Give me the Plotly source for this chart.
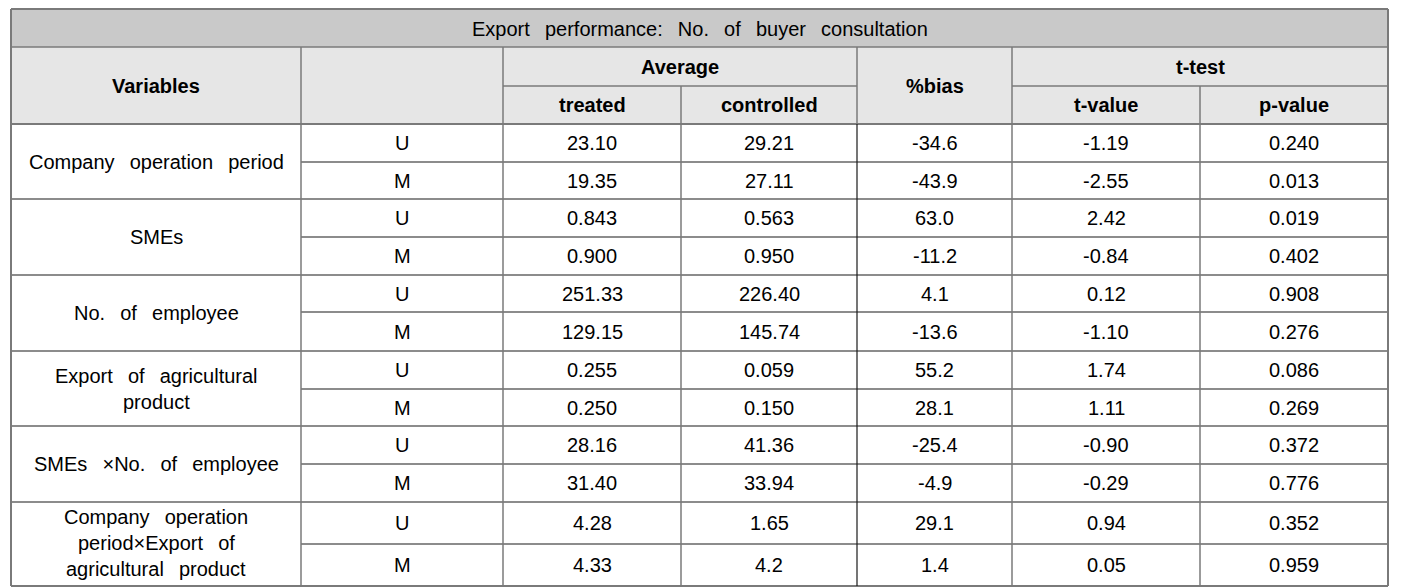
import plotly.graph_objects as go

# ---------------- data ----------------
title_text = "Export performance: No. of buyer consultation"
variables = [
    "Company operation period",
    "SMEs",
    "No. of employee",
    "Export of agricultural|product",
    "SMEs ×No. of employee",
    "Company operation|period×Export of|agricultural product",
]
sample_types = ["U", "M"]
treated = ["23.10", "19.35", "0.843", "0.900", "251.33", "129.15",
           "0.255", "0.250", "28.16", "31.40", "4.28", "4.33"]
controlled = ["29.21", "27.11", "0.563", "0.950", "226.40", "145.74",
              "0.059", "0.150", "41.36", "33.94", "1.65", "4.2"]
bias = ["-34.6", "-43.9", "63.0", "-11.2", "4.1", "-13.6",
        "55.2", "28.1", "-25.4", "-4.9", "29.1", "1.4"]
t_value = ["-1.19", "-2.55", "2.42", "-0.84", "0.12", "-1.10",
           "1.74", "1.11", "-0.90", "-0.29", "0.94", "0.05"]
p_value = ["0.240", "0.013", "0.019", "0.402", "0.908", "0.276",
           "0.086", "0.269", "0.372", "0.776", "0.352", "0.959"]

# ---------------- layout geometry ----------------
W, H = 1408, 588
left = 11
col_widths = [290, 202, 178, 176, 155, 188, 188]
top = 9
header_heights = [38, 39, 38]
row_heights = [38, 37, 38, 38, 37, 39, 38, 37, 38, 38, 42, 42]

xs = [left]
for w in col_widths:
    xs.append(xs[-1] + w)
ys_h = [top]
for h in header_heights:
    ys_h.append(ys_h[-1] + h)
ys = [ys_h[-1]]
for h in row_heights:
    ys.append(ys[-1] + h)

FONT = "Liberation Sans, Arial, sans-serif"
FS = 20
GRAY = "#7a7a7a"
DARK = "#1a1a1a"

def spaced(s):
    return s.replace(" ", " \u00a0\u2009")

shapes = []
annotations = []

def rect(x0, y0, x1, y1, color):
    shapes.append(dict(type="rect", xref="x", yref="y", x0=x0, x1=x1, y0=y0, y1=y1,
                       fillcolor=color, line=dict(width=0), layer="below"))

def line(x0, y0, x1, y1, color=GRAY, width=1.5):
    shapes.append(dict(type="line", xref="x", yref="y", x0=x0, x1=x1, y0=y0, y1=y1,
                       line=dict(color=color, width=width)))

def text(x, y, s, bold=False, size=FS):
    annotations.append(dict(x=x, y=y, xref="x", yref="y", text=(f"<b>{s}</b>" if bold else s),
                            showarrow=False, xanchor="center", yanchor="middle",
                            font=dict(family=FONT, size=size, color="#000000")))

# backgrounds
rect(xs[0], ys_h[0], xs[-1], ys_h[1], "#c9c9c9")
rect(xs[0], ys_h[1], xs[-1], ys_h[3], "#e6e6e6")
rect(xs[0], ys[0], xs[-1], ys[-1], "#ffffff")

# title row
text((xs[0] + xs[-1]) / 2, (ys_h[0] + ys_h[1]) / 2 + 1, spaced(title_text))

# header cells
hmid = (ys_h[1] + ys_h[3]) / 2
text((xs[0] + xs[1]) / 2, hmid, "Variables", bold=True)
text((xs[2] + xs[4]) / 2, (ys_h[1] + ys_h[2]) / 2, "Average", bold=True)
text((xs[4] + xs[5]) / 2, hmid, "%bias", bold=True)
text((xs[5] + xs[7]) / 2, (ys_h[1] + ys_h[2]) / 2, "t-test", bold=True)
sub = {2: "treated", 3: "controlled", 5: "t-value", 6: "p-value"}
for c, s in sub.items():
    text((xs[c] + xs[c + 1]) / 2, (ys_h[2] + ys_h[3]) / 2, s, bold=True)

# data cells
columns = [None, None, treated, controlled, bias, t_value, p_value]
LINE_H = 26
for g, var in enumerate(variables):
    r0 = 2 * g
    gy0, gy1 = ys[r0], ys[r0 + 2]
    parts = var.split("|")
    n = len(parts)
    cy = (gy0 + gy1) / 2 - (1.5 if n > 2 else 0)
    for k, p in enumerate(parts):
        text((xs[0] + xs[1]) / 2, cy + (k - (n - 1) / 2) * LINE_H, spaced(p))
    for j, st in enumerate(sample_types):
        r = r0 + j
        ry = (ys[r] + ys[r + 1]) / 2
        text((xs[1] + xs[2]) / 2, ry, st)
        for c in range(2, 7):
            text((xs[c] + xs[c + 1]) / 2, ry, columns[c][r])

# horizontal lines
line(xs[0], ys_h[0], xs[-1], ys_h[0], GRAY, 2)
line(xs[0], ys_h[1], xs[-1], ys_h[1], GRAY, 1.5)
line(xs[2], ys_h[2], xs[4], ys_h[2], GRAY, 1.5)
line(xs[5], ys_h[2], xs[7], ys_h[2], GRAY, 1.5)
line(xs[0], ys_h[3], xs[-1], ys_h[3], GRAY, 2)
for r in range(1, len(row_heights)):
    if r % 2 == 1:
        line(xs[1], ys[r], xs[-1], ys[r], DARK, 1.2)
    else:
        line(xs[0], ys[r], xs[-1], ys[r], DARK, 1.2)
line(xs[0], ys[-1], xs[-1], ys[-1], GRAY, 2)

# vertical lines
for i, x in enumerate(xs):
    if i in (0, len(xs) - 1):
        line(x, ys_h[0], x, ys[-1], GRAY, 2)
    elif i in (3, 6):
        line(x, ys_h[2], x, ys[-1], GRAY, 1.5)
    elif i == 4:
        line(x, ys_h[1], x, ys_h[3], GRAY, 1.5)
        line(x, ys[0], x, ys[-1], DARK, 1.2)
    else:
        line(x, ys_h[1], x, ys[-1], GRAY, 1.5)

fig = go.Figure()
fig.update_layout(
    width=W, height=H,
    margin=dict(l=0, r=0, t=0, b=0),
    paper_bgcolor="#ffffff", plot_bgcolor="#ffffff",
    xaxis=dict(range=[0, W], visible=False, fixedrange=True),
    yaxis=dict(range=[H, 0], visible=False, fixedrange=True),
    shapes=shapes, annotations=annotations, showlegend=False,
)
fig.write_html(
    "out.html",
    config={"displayModeBar": False},
    post_script="document.body.style.margin='0';document.body.style.overflow='hidden';",
)
